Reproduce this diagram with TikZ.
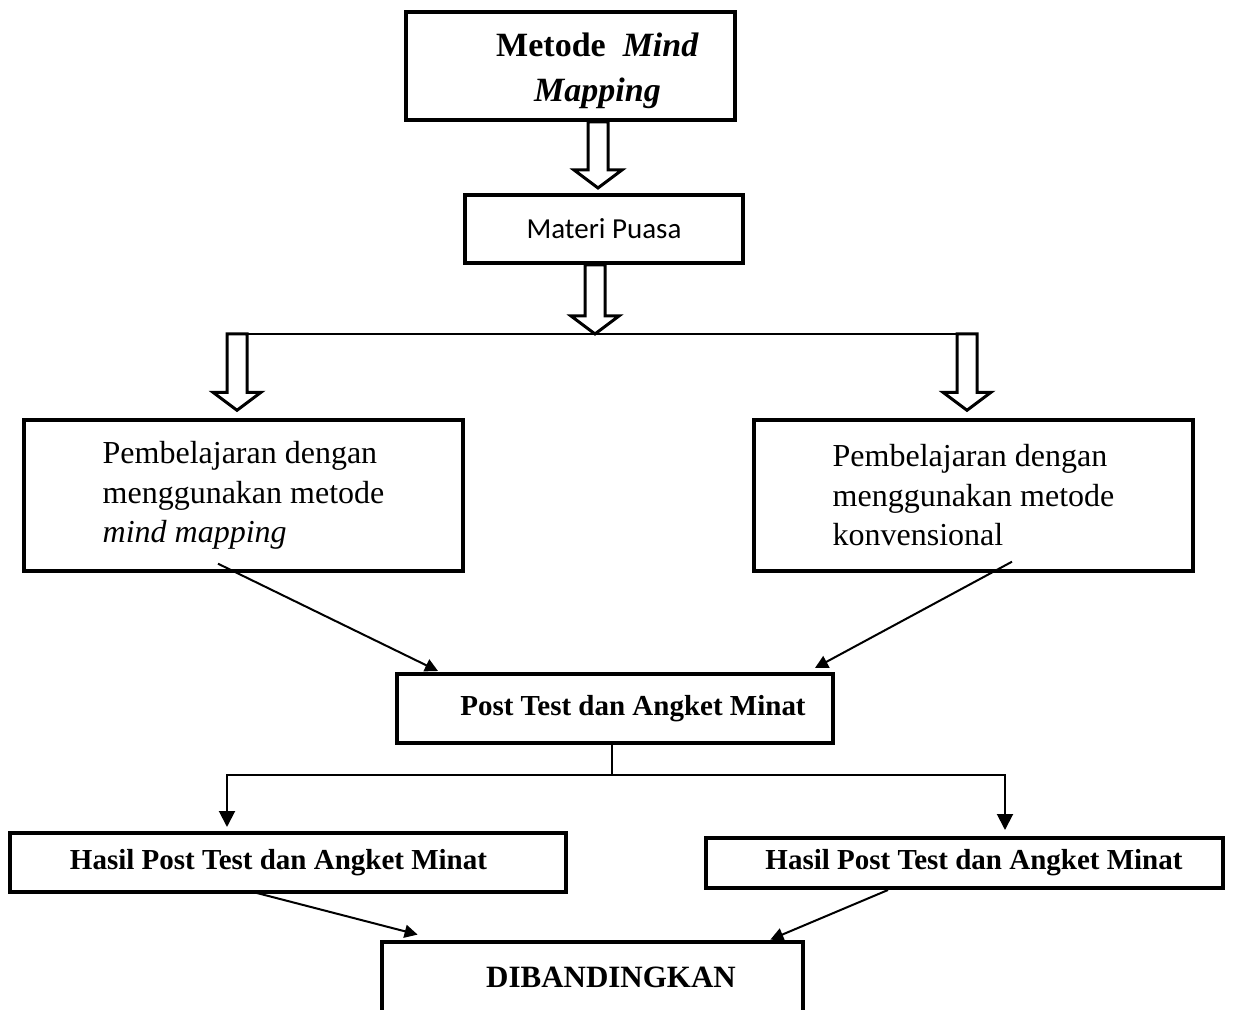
\documentclass[tikz,border=0pt]{standalone}
\usepackage{fontspec}
\setmainfont{Liberation Serif}
\newfontfamily\calibri{Carlito}
\usetikzlibrary{arrows.meta,calc}

\tikzset{
  frame/.style={draw, line width=2pt, inner sep=0pt},
  widebox/.style={draw, line width=1.7pt, minimum width=219.5pt, minimum height=75.5pt,
    align=left, font=\fontsize{16}{19.75}\selectfont},
  result/.style={frame, font=\fontsize{14.5}{17}\selectfont\bfseries},
  linkline/.style={line width=1pt},
  linkarrow/.style={line width=1pt, -{Triangle[length=6.5pt,width=6.5pt]}},
  droparrow/.style={line width=1pt, -{Triangle[length=8pt,width=8pt]}},
  hollow/.style={line width=1.5pt, line join=miter}
}
\newcommand{\fatarrow}[2]{%
  \draw[hollow] let \p1=#1, \p2=#2 in
    (\x2-5pt,\y1) -- (\x2-5pt,\y2+9pt) -- (\x2-12pt,\y2+9pt) -- (\x2,\y2)
    -- (\x2+12pt,\y2+9pt) -- (\x2+5pt,\y2+9pt) -- (\x2+5pt,\y1) -- cycle;}

\begin{document}
\begin{tikzpicture}[x=0.5pt,y=-0.5pt]
    \useasboundingbox (0,0) rectangle (1233,1010);
    \node[frame, minimum width=164.5pt, minimum height=54pt, align=center,
      font=\fontsize{17}{22.5}\selectfont\bfseries] (title) at (570.5,66)
      {\rule{0pt}{17pt}\hspace*{27pt}Metode\ \ \textit{Mind}\\\hspace*{27pt}\textit{Mapping}};
    \node[frame, minimum width=139pt, minimum height=34pt,
      font=\calibri\fontsize{14.5}{17}\selectfont] (materi) at (604,229) {Materi Puasa};
    \coordinate (mid) at (595,334);
    \coordinate (barL) at (237,334);
    \coordinate (barR) at (967,334);
    \node[widebox] (lbox) at (243.5,495.5)
      {Pembelajaran dengan\\menggunakan metode\\\textit{mind mapping}};
    \node[widebox] (rbox) at (973.5,495.5)
      {Pembelajaran dengan\\menggunakan metode\\konvensional};
    \node[result, minimum width=218pt, minimum height=34.5pt] (post) at (615,708.5)
      {\hspace*{18pt}Post Test dan Angket Minat};
    \coordinate (fork) at (612,775);
    \node[result, minimum width=278pt, minimum height=29.5pt] (hasilL) at (288,862.5)
      {Hasil Post Test dan Angket Minat\hspace*{9.5pt}};
    \node[result, minimum width=258.5pt, minimum height=25pt] (hasilR) at (964.5,863)
      {\hspace*{9.5pt}Hasil Post Test dan Angket Minat};
    \node[minimum width=210.5pt, minimum height=35pt,
      font=\fontsize{15.5}{18}\selectfont\bfseries] (dib) at (592.5,977)
      {\hspace*{18.5pt}DIBANDINGKAN};
    \draw[line width=2pt] (dib.south west) -- (dib.north west) -- (dib.north east) -- (dib.south east);

    \coordinate (tipL) at ($(barL |- lbox.north)+(0,-8)$);
    \coordinate (tipR) at ($(barR |- rbox.north)+(0,-8)$);
    \fatarrow{(title.south)}{([shift={(-6,-5)}]materi.north)}
    \fatarrow{(materi.south)}{(mid)}
    \draw[linkline] (barL) -- (barR);
    \fatarrow{(barL)}{(tipL)}
    \fatarrow{(barR)}{(tipR)}

    \draw[linkarrow] ([shift={(-25.5,-9)}]lbox.south) -- ([shift={(43,-1)}]post.north west);
    \draw[linkarrow] ([shift={(38.5,-11)}]rbox.south) -- ([shift={(-20,-4)}]post.north east);
    \draw[linkline] (post.south -| fork) -- (fork);
    \draw[droparrow] (fork) -| ([shift={(-61,-4)}]hasilL.north);
    \draw[droparrow] (fork) -| ([shift={(40.5,-6)}]hasilR.north);
    \draw[linkarrow] ([shift={(-35,-2)}]hasilL.south) -- ([shift={(36,-7)}]dib.north west);
    \draw[linkarrow] ([shift={(-76.5,0)}]hasilR.south) -- ([shift={(-33,-2)}]dib.north east);
\end{tikzpicture}
\end{document}
